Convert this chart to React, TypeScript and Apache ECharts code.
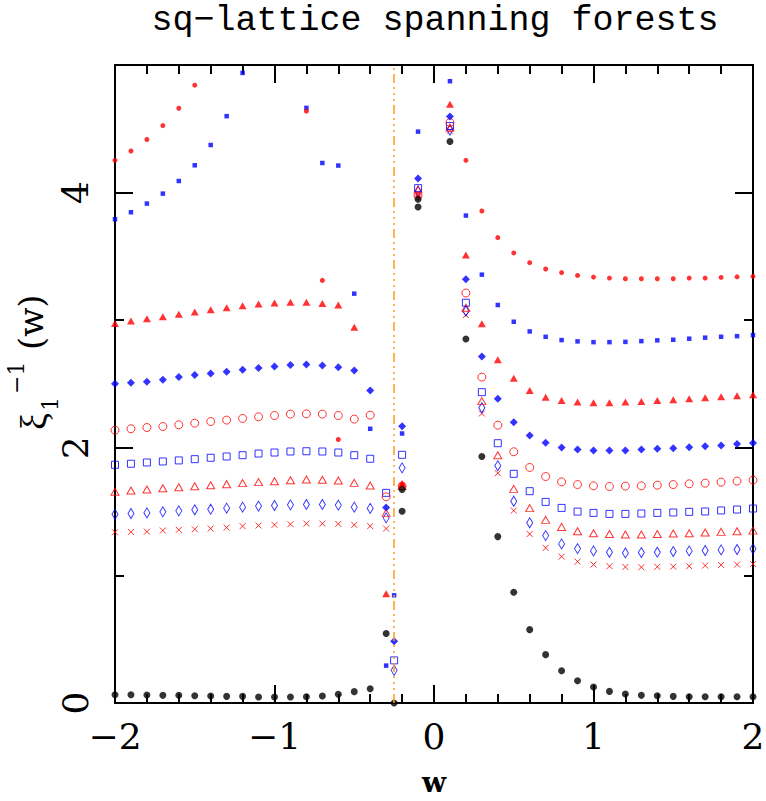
import React, { useEffect, useRef } from "react";
import * as echarts from "echarts";

// ---- data: [w, xi_1^{-1}(w)] ----
const CRIT_W = -0.25;

const blackDots: number[][] = [
  [-2, 0.065], [-1.9, 0.065], [-1.8, 0.063], [-1.7, 0.06], [-1.6, 0.06], [-1.5, 0.057], [-1.4, 0.055],
  [-1.3, 0.052], [-1.2, 0.052], [-1.1, 0.047], [-1.0, 0.047], [-0.9, 0.047], [-0.8, 0.049], [-0.7, 0.055],
  [-0.6, 0.068], [-0.5, 0.089], [-0.4, 0.112], [-0.3, 0.544], [-0.25, 0.0], [-0.2, 1.503], [-0.1, 3.887],
  [0.1, 4.4], [0.2, 2.852], [0.3, 1.932], [0.4, 1.304], [0.5, 0.868], [0.6, 0.575], [0.7, 0.379],
  [0.8, 0.253], [0.9, 0.175], [1.0, 0.125], [1.1, 0.091], [1.2, 0.07], [1.3, 0.06], [1.4, 0.057],
  [1.5, 0.052], [1.6, 0.049], [1.7, 0.049], [1.8, 0.049], [1.9, 0.049], [2.0, 0.049],
];
const blackExtra: number[][] = [[-0.2, 1.673], [-0.1, 3.948]];

const redDots: number[][] = [
  [-2, 4.253], [-1.9, 4.326], [-1.8, 4.416], [-1.7, 4.525], [-1.6, 4.661], [-1.5, 4.842],
  [-0.8, 4.638], [-0.7, 3.312], [-0.6, 2.065], [-0.2, 1.71], [-0.1, 3.97],
  [0.2, 4.253], [0.3, 3.856], [0.4, 3.647], [0.5, 3.527], [0.6, 3.451], [0.7, 3.401], [0.8, 3.373],
  [0.9, 3.351], [1.0, 3.338], [1.1, 3.33], [1.2, 3.325], [1.3, 3.325], [1.4, 3.325], [1.5, 3.325],
  [1.6, 3.33], [1.7, 3.33], [1.8, 3.335], [1.9, 3.34], [2.0, 3.343],
];

const blueSquares: number[][] = [
  [-2, 3.791], [-1.9, 3.846], [-1.8, 3.914], [-1.7, 3.992], [-1.6, 4.091], [-1.5, 4.214], [-1.4, 4.373],
  [-1.3, 4.599], [-1.2, 4.938], [-0.8, 4.664], [-0.7, 4.232], [-0.6, 4.212], [-0.5, 3.208], [-0.4, 2.149],
  [-0.3, 0.293], [-0.25, 0.844], [-0.2, 2.112], [-0.1, 4.478], [0.1, 4.873], [0.2, 3.82], [0.3, 3.357],
  [0.4, 3.119], [0.5, 2.988], [0.6, 2.912], [0.7, 2.87], [0.8, 2.844], [0.9, 2.834], [1.0, 2.828],
  [1.1, 2.828], [1.2, 2.83], [1.3, 2.836], [1.4, 2.842], [1.5, 2.847], [1.6, 2.855], [1.7, 2.863],
  [1.8, 2.87], [1.9, 2.875], [2.0, 2.883],
];

const redTriangles: number[][] = [
  [-2, 2.975], [-1.9, 2.993], [-1.8, 3.012], [-1.7, 3.027], [-1.6, 3.046], [-1.5, 3.064], [-1.4, 3.082],
  [-1.3, 3.098], [-1.2, 3.114], [-1.1, 3.127], [-1.0, 3.134], [-0.9, 3.14], [-0.8, 3.14], [-0.7, 3.13],
  [-0.6, 3.119], [-0.5, 2.944], [-0.3, 0.857], [-0.2, 1.72], [0.1, 4.692], [0.2, 3.511], [0.3, 2.972],
  [0.4, 2.69], [0.5, 2.545], [0.6, 2.449], [0.7, 2.397], [0.8, 2.371], [0.9, 2.358], [1.0, 2.353],
  [1.1, 2.353], [1.2, 2.358], [1.3, 2.363], [1.4, 2.371], [1.5, 2.376], [1.6, 2.384], [1.7, 2.392],
  [1.8, 2.4], [1.9, 2.408], [2.0, 2.416],
];

const blueDiamonds: number[][] = [
  [-2, 2.502], [-1.9, 2.51], [-1.8, 2.518], [-1.7, 2.533], [-1.6, 2.554], [-1.5, 2.57], [-1.4, 2.583],
  [-1.3, 2.596], [-1.2, 2.611], [-1.1, 2.625], [-1.0, 2.638], [-0.9, 2.648], [-0.8, 2.653], [-0.7, 2.645],
  [-0.6, 2.632], [-0.5, 2.606], [-0.4, 2.449], [-0.3, 1.532], [-0.25, 0.483], [-0.2, 2.169], [-0.1, 4.11],
  [0.1, 4.596], [0.2, 3.32], [0.3, 2.716], [0.4, 2.384], [0.5, 2.201], [0.6, 2.096], [0.7, 2.039],
  [0.8, 2.002], [0.9, 1.987], [1.0, 1.979], [1.1, 1.979], [1.2, 1.979], [1.3, 1.987], [1.4, 1.992],
  [1.5, 1.997], [1.6, 2.005], [1.7, 2.013], [1.8, 2.018], [1.9, 2.029], [2.0, 2.037],
];

const openCircles: number[][] = [
  [-2, 2.138], [-1.9, 2.149], [-1.8, 2.159], [-1.7, 2.167], [-1.6, 2.18], [-1.5, 2.193], [-1.4, 2.206],
  [-1.3, 2.217], [-1.2, 2.23], [-1.1, 2.243], [-1.0, 2.253], [-0.9, 2.264], [-0.8, 2.266], [-0.7, 2.264],
  [-0.6, 2.253], [-0.5, 2.225], [-0.4, 2.256], [-0.3, 1.616], [-0.2, 1.7], [-0.1, 3.974], [0.1, 4.549],
  [0.2, 3.213], [0.3, 2.554], [0.4, 2.177], [0.5, 1.969], [0.6, 1.846], [0.7, 1.775], [0.8, 1.733],
  [0.9, 1.712], [1.0, 1.702], [1.1, 1.697], [1.2, 1.7], [1.3, 1.702], [1.4, 1.707], [1.5, 1.712],
  [1.6, 1.718], [1.7, 1.723], [1.8, 1.731], [1.9, 1.739], [2.0, 1.747],
];

const openSquares: number[][] = [
  [-2, 1.867], [-1.9, 1.875], [-1.8, 1.885], [-1.7, 1.893], [-1.6, 1.901], [-1.5, 1.911], [-1.4, 1.922],
  [-1.3, 1.932], [-1.2, 1.942], [-1.1, 1.955], [-1.0, 1.963], [-0.9, 1.971], [-0.8, 1.973], [-0.7, 1.971],
  [-0.6, 1.963], [-0.5, 1.942], [-0.4, 1.914], [-0.3, 1.647], [-0.25, 0.334], [-0.2, 1.945], [-0.1, 4.035],
  [0.1, 4.522], [0.2, 3.137], [0.3, 2.436], [0.4, 2.036], [0.5, 1.796], [0.6, 1.66], [0.7, 1.576],
  [0.8, 1.529], [0.9, 1.5], [1.0, 1.49], [1.1, 1.482], [1.2, 1.482], [1.3, 1.485], [1.4, 1.49],
  [1.5, 1.493], [1.6, 1.498], [1.7, 1.501], [1.8, 1.509], [1.9, 1.516], [2.0, 1.524],
];

const openTriangles: number[][] = [
  [-2, 1.655], [-1.9, 1.665], [-1.8, 1.673], [-1.7, 1.683], [-1.6, 1.691], [-1.5, 1.699], [-1.4, 1.707],
  [-1.3, 1.715], [-1.2, 1.723], [-1.1, 1.731], [-1.0, 1.738], [-0.9, 1.746], [-0.8, 1.752], [-0.7, 1.749],
  [-0.6, 1.744], [-0.5, 1.725], [-0.4, 1.704], [-0.3, 1.49], [-0.2, 1.7], [-0.1, 4.025], [0.1, 4.51],
  [0.2, 3.098], [0.3, 2.366], [0.4, 1.942], [0.5, 1.678], [0.6, 1.527], [0.7, 1.435], [0.8, 1.38],
  [0.9, 1.346], [1.0, 1.33], [1.1, 1.325], [1.2, 1.32], [1.3, 1.32], [1.4, 1.325], [1.5, 1.328],
  [1.6, 1.33], [1.7, 1.336], [1.8, 1.341], [1.9, 1.346], [2.0, 1.351],
];

const openDiamonds: number[][] = [
  [-2, 1.479], [-1.9, 1.485], [-1.8, 1.49], [-1.7, 1.498], [-1.6, 1.506], [-1.5, 1.514], [-1.4, 1.519],
  [-1.3, 1.527], [-1.2, 1.535], [-1.1, 1.543], [-1.0, 1.548], [-0.9, 1.553], [-0.8, 1.556], [-0.7, 1.556],
  [-0.6, 1.551], [-0.5, 1.535], [-0.4, 1.525], [-0.3, 1.451], [-0.25, 0.256], [-0.2, 1.843], [-0.1, 4.01],
  [0.1, 4.49], [0.2, 3.072], [0.3, 2.314], [0.4, 1.859], [0.5, 1.581], [0.6, 1.412], [0.7, 1.312],
  [0.8, 1.247], [0.9, 1.21], [1.0, 1.192], [1.1, 1.181], [1.2, 1.176], [1.3, 1.179], [1.4, 1.182],
  [1.5, 1.187], [1.6, 1.192], [1.7, 1.195], [1.8, 1.2], [1.9, 1.203], [2.0, 1.208],
];

const crosses: number[][] = [
  [-2, 1.338], [-1.9, 1.341], [-1.8, 1.343], [-1.7, 1.352], [-1.6, 1.357], [-1.5, 1.362], [-1.4, 1.367],
  [-1.3, 1.375], [-1.2, 1.386], [-1.1, 1.391], [-1.0, 1.396], [-0.9, 1.401], [-0.8, 1.406], [-0.7, 1.406],
  [-0.6, 1.404], [-0.5, 1.396], [-0.4, 1.386], [-0.3, 1.367], [-0.2, 1.7], [-0.1, 4.0], [0.1, 4.485],
  [0.2, 3.04], [0.3, 2.269], [0.4, 1.801], [0.5, 1.508], [0.6, 1.325], [0.7, 1.216], [0.8, 1.147],
  [0.9, 1.108], [1.0, 1.085], [1.1, 1.072], [1.2, 1.066], [1.3, 1.064], [1.4, 1.067], [1.5, 1.069],
  [1.6, 1.072], [1.7, 1.077], [1.8, 1.082], [1.9, 1.085], [2.0, 1.09],
];

const TITLE = "sq\u2212lattice spanning forests";
const RED = "#ff0000";
const BLUE = "#0000ff";
const SERIF = "'DejaVu Serif', serif";
const GREEK = "'Liberation Serif', serif";

const minus = (v: number) => String(v).replace("-", "\u2212");

function App() {
  const ref = useRef<HTMLDivElement>(null);
  useEffect(() => {
    if (!ref.current) return;
    const chart = echarts.init(ref.current, undefined, { renderer: "svg" });

    const xBase = (pos: "bottom" | "top", labels: boolean) => ({
      type: "value",
      position: pos,
      min: -2,
      max: 2,
      interval: 1,
      axisLine: { show: true, onZero: false, lineStyle: { color: "#000", width: 2 } },
      axisTick: { show: true, inside: true, length: 18, lineStyle: { color: "#000", width: 2 } },
      minorTick: { show: true, splitNumber: 5, length: 9, lineStyle: { color: "#000", width: 2 } },
      splitLine: { show: false },
      minorSplitLine: { show: false },
      axisLabel: {
        show: labels,
        margin: 15,
        fontSize: 36,
        fontFamily: SERIF,
        color: "#000",
        formatter: (v: number) => minus(v),
      },
    });

    const yBase = (pos: "left" | "right", interval: number, len: number, labels: boolean) => ({
      type: "value",
      position: pos,
      min: 0,
      max: 5,
      interval,
      axisLine: { show: true, onZero: false, lineStyle: { color: "#000", width: 2 } },
      axisTick: { show: true, inside: true, length: len, lineStyle: { color: "#000", width: 2 } },
      splitLine: { show: false },
      axisLabel: {
        show: labels,
        rotate: 90,
        margin: 22,
        fontSize: 36,
        fontFamily: SERIF,
        color: "#000",
        showMaxLabel: false,
        formatter: (v: number) => (v === 5 ? "" : minus(v)),
      },
    });

    const scatter = (name: string, data: number[][], symbol: string, size: any, itemStyle: any, z: number) => ({
      name,
      type: "scatter",
      data,
      symbol,
      symbolSize: size,
      itemStyle,
      z,
      xAxisIndex: 0,
      yAxisIndex: 0,
      silent: true,
    });

    const open = (c: string) => ({ color: "transparent", borderColor: c, borderWidth: 1 });
    const txt = (text: string, x: number, y: number, size: number, family: string) => ({
      type: "text",
      x,
      y,
      style: {
        text,
        fontSize: size,
        fontFamily: family,
        fill: "#000",
        align: "left",
        verticalAlign: "middle",
        textAlign: "left",
        textVerticalAlign: "middle",
      },
    });

    const option: any = {
      animation: false,
      backgroundColor: "#fff",
      grid: { left: 115, right: 13, top: 65, bottom: 98, containLabel: false, outerBoundsMode: "none" },
      xAxis: [xBase("bottom", true), xBase("top", false)],
      yAxis: [
        yBase("left", 2, 18, true),
        yBase("left", 1, 9, false),
        yBase("right", 2, 18, false),
        yBase("right", 1, 9, false),
      ],
      graphic: [
        {
          type: "text",
          x: 435,
          y: 21,
          style: {
            text: TITLE,
            fontSize: 35,
            fontFamily: "'Liberation Mono', monospace",
            fill: "#000",
            align: "center",
            verticalAlign: "middle",
            textAlign: "center",
            textVerticalAlign: "middle",
          },
        },
        {
          type: "text",
          x: 434,
          y: 782,
          style: {
            text: "w",
            fontSize: 28,
            fontWeight: "bold",
            fontFamily: SERIF,
            fill: "#000",
            align: "center",
            verticalAlign: "middle",
            textAlign: "center",
            textVerticalAlign: "middle",
          },
        },
        {
          type: "group",
          x: 0,
          y: 430,
          rotation: Math.PI / 2,
          children: [
            txt("\u03be", 0, 34, 38, GREEK),
            txt("1", 19, 50, 22, SERIF),
            txt("\u22121", 36, 16, 22, SERIF),
            txt("(w)", 80, 31, 34, SERIF),
          ],
        },
      ],
      series: [
        scatter("crosses", crosses, "path://M0,0L10,10M0,10L10,0", 6, open(RED), 2),
        scatter("openDiamonds", openDiamonds, "diamond", [6, 10], open(BLUE), 2),
        scatter("openTriangles", openTriangles, "triangle", [8, 7], open(RED), 2),
        scatter("openSquares", openSquares, "rect", 7, open(BLUE), 2),
        scatter("openCircles", openCircles, "circle", 8, open(RED), 2),
        scatter("blueDiamonds", blueDiamonds, "diamond", 8, { color: BLUE }, 3),
        scatter("redTriangles", redTriangles, "triangle", [8, 7], { color: RED }, 3),
        scatter("blueSquares", blueSquares, "rect", 4.5, { color: BLUE }, 3),
        scatter("redDots", redDots, "circle", 5, { color: RED }, 3),
        scatter("blackExtra", blackExtra, "circle", 7, { color: "#000" }, 4),
        {
          ...scatter("blackDots", blackDots, "circle", 7, { color: "#000" }, 4),
          markLine: {
            silent: true,
            symbol: ["none", "none"],
            label: { show: false },
            lineStyle: { color: "#ff9a1a", width: 1.5, type: [9, 4, 2, 4, 2, 4, 2, 4] },
            data: [{ xAxis: CRIT_W }],
          },
        },
      ],
    };

    chart.setOption(option);
    return () => chart.dispose();
  }, []);

  return <div ref={ref} style={{ position: "fixed", left: 0, top: 0, width: 766, height: 801 }} />;
}

export default App;
